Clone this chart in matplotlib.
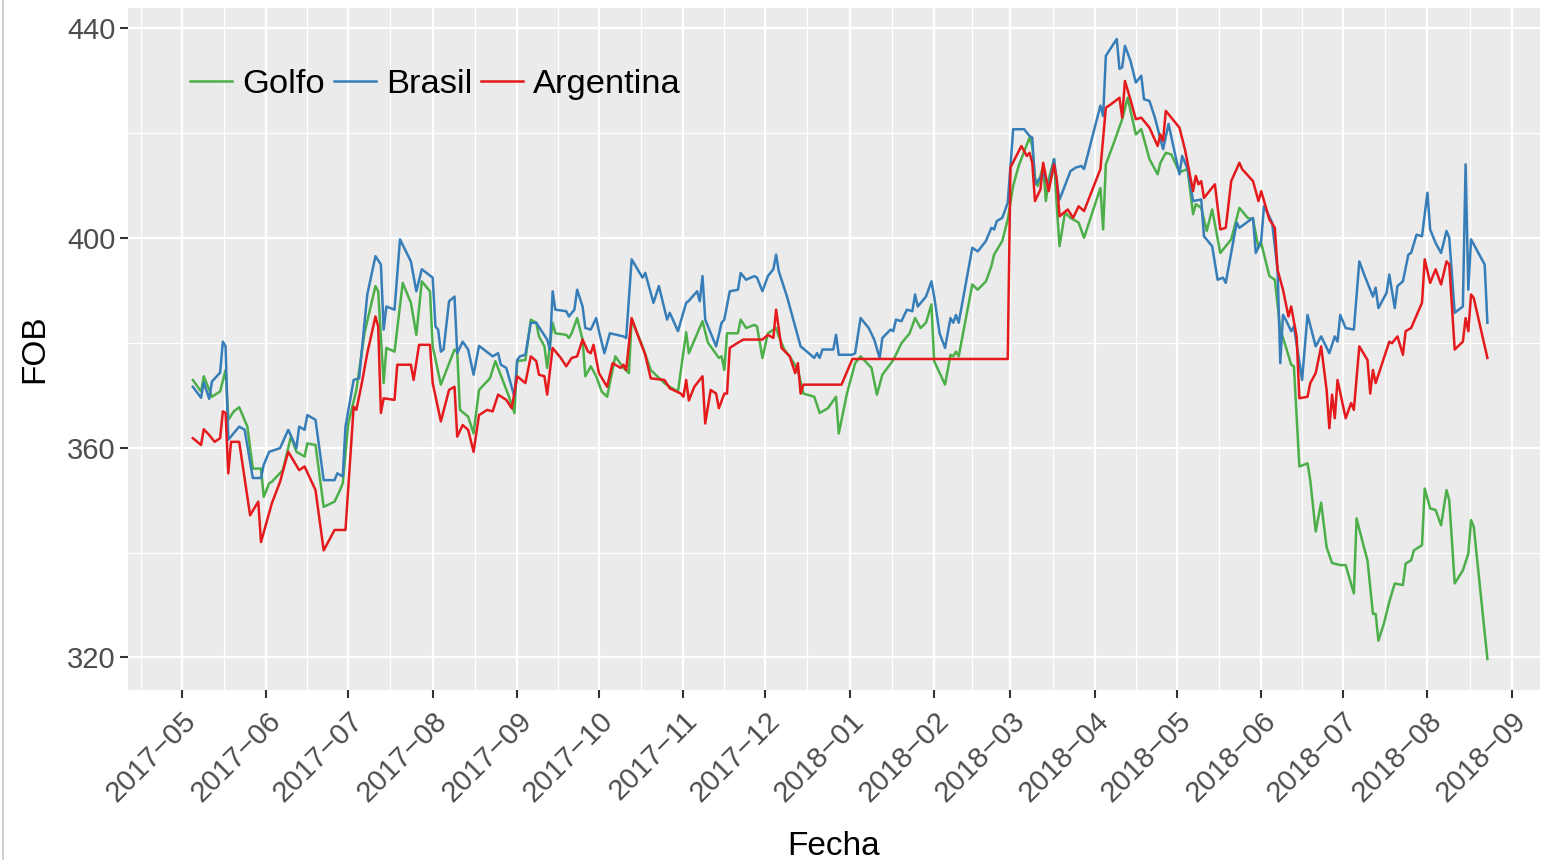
import numpy as np
import pandas as pd
import matplotlib
matplotlib.use("Agg")
import matplotlib.pyplot as plt
import matplotlib.dates as mdates
from matplotlib.lines import Line2D

plt.rcParams["font.family"] = ["Liberation Sans", "DejaVu Sans"]

# días desde 2017-05-01 y precio FOB
inicio = pd.Timestamp("2017-05-01")

golfo_dias = [4, 7, 8, 11, 14, 16, 17, 19, 21, 24, 26, 29, 30, 32, 33, 37, 40, 42, 45, 46,
              49, 52, 56, 58, 59, 61, 64, 67, 71, 72, 74, 75, 78, 81, 84, 86, 88, 91, 92, 95,
              100, 101, 102, 105, 107, 109, 113, 115, 120, 122, 123, 126, 128, 130, 131, 133, 134, 136, 137, 141,
              142, 143, 145, 147, 148, 150, 152, 154, 156, 159, 162, 164, 165, 169, 172, 177, 179, 182, 185, 186,
              191, 193, 194, 197, 198, 199, 200, 204, 205, 207, 210, 211, 213, 215, 218, 219, 221, 223, 226, 228,
              232, 234, 237, 240, 241, 244, 247, 249, 253, 255, 257, 261, 264, 267, 269, 271, 273, 275, 276, 280,
              282, 283, 284, 285, 290, 292, 295, 297, 298, 301, 303, 305, 307, 311, 312, 313, 314, 316, 317, 318,
              320, 321, 322, 324, 326, 329, 331, 337, 338, 339, 342, 345, 347, 350, 352, 355, 358, 359, 361, 363,
              366, 369, 371, 372, 374, 376, 378, 381, 385, 388, 391, 393, 395, 396, 399, 401, 403, 405, 407, 408,
              410, 413, 414, 416, 418, 420, 422, 425, 427, 430, 431, 433, 435, 437, 438, 439, 441, 443, 445, 448,
              449, 451, 452, 455, 456, 458, 460, 462, 464, 465, 467, 470, 472, 473, 474, 479]
golfo_fob = [372.9, 370.7, 373.6, 369.7, 370.7, 374.8, 365.3, 366.9, 367.7, 364.0, 356.0, 356.0, 350.6, 353.2, 353.5, 355.7, 362.1, 359.2, 358.3, 360.8,
             360.5, 348.7, 349.7, 351.9, 353.2, 364.5, 371.0, 381.9, 390.8, 389.8, 372.3, 379.0, 378.3, 391.4, 387.6, 381.5, 391.7, 389.8, 379.3, 372.0,
             378.7, 378.3, 367.2, 365.9, 362.7, 371.0, 373.2, 376.5, 369.7, 366.6, 376.5, 376.7, 384.4, 383.8, 381.2, 379.3, 375.2, 383.8, 381.8, 381.5,
             380.9, 381.8, 384.7, 380.6, 373.6, 375.5, 373.6, 370.7, 369.7, 377.4, 375.2, 374.2, 384.4, 379.3, 374.8, 372.3, 371.6, 370.7, 382.0, 378.0,
             384.1, 380.0, 379.3, 377.1, 377.4, 374.8, 381.8, 381.8, 384.4, 382.8, 383.4, 383.1, 377.1, 381.8, 382.8, 381.2, 378.7, 377.4, 374.8, 370.3,
             369.7, 366.6, 367.5, 369.7, 362.7, 370.3, 376.1, 377.4, 375.2, 370.1, 373.9, 376.7, 379.9, 381.8, 384.7, 382.8, 383.8, 387.3, 376.5, 372.0,
             377.7, 377.4, 378.3, 377.4, 391.1, 390.1, 391.7, 394.6, 396.8, 399.4, 403.5, 409.9, 413.7, 419.1, 417.5, 411.5, 409.9, 413.7, 407.0, 411.1,
             415.0, 406.0, 398.4, 404.8, 403.8, 402.9, 400.0, 409.5, 401.6, 414.0, 418.2, 422.6, 426.7, 419.7, 420.7, 415.0, 412.1, 414.3, 416.2, 415.9,
             412.5, 413.1, 404.5, 406.4, 405.7, 401.3, 405.4, 397.1, 399.7, 405.7, 403.8, 403.5, 398.1, 399.0, 392.7, 392.0, 382.5, 379.3, 375.8, 375.5,
             356.4, 357.0, 353.8, 344.0, 349.5, 341.0, 338.0, 337.6, 337.6, 332.2, 346.5, 342.4, 338.5, 328.3, 328.3, 323.2, 326.4, 330.6, 334.1, 333.8,
             337.9, 338.5, 340.4, 341.4, 352.2, 348.4, 348.1, 345.2, 351.9, 350.0, 334.1, 336.6, 339.8, 346.2, 344.9, 319.7]

brasil_dias = [4, 7, 8, 10, 11, 14, 15, 16, 17, 21, 23, 26, 29, 30, 32, 36, 39, 42, 43, 45,
               46, 49, 52, 56, 57, 59, 60, 63, 65, 68, 71, 73, 74, 75, 78, 80, 84, 86, 88, 92,
               93, 94, 95, 96, 98, 100, 101, 103, 105, 107, 109, 114, 116, 117, 119, 122, 123, 124, 126, 128,
               130, 134, 135, 136, 137, 141, 142, 144, 145, 147, 148, 150, 152, 153, 155, 157, 162, 163, 165, 169,
               170, 173, 175, 178, 179, 182, 185, 186, 189, 190, 191, 192, 196, 198, 199, 201, 204, 205, 207, 210,
               211, 213, 215, 217, 218, 219, 222, 225, 226, 227, 230, 232, 233, 234, 235, 239, 240, 241, 246, 247,
               249, 252, 254, 256, 257, 260, 261, 262, 264, 266, 268, 269, 270, 273, 275, 276, 278, 280, 282, 283,
               284, 285, 290, 292, 295, 297, 298, 299, 301, 303, 304, 305, 309, 311, 312, 313, 315, 316, 318, 320,
               321, 322, 323, 326, 328, 330, 331, 337, 338, 339, 341, 343, 344, 345, 346, 348, 350, 352, 353, 355,
               357, 360, 362, 366, 367, 369, 371, 374, 375, 378, 380, 382, 383, 387, 388, 393, 394, 396, 397, 398,
               400, 402, 403, 404, 405, 407, 408, 411, 413, 416, 418, 421, 423, 424, 425, 427, 430, 432, 434, 437,
               438, 439, 442, 443, 445, 446, 448, 450, 451, 453, 455, 457, 458, 460, 462, 464, 465, 467, 470, 471,
               472, 473, 478, 479]
brasil_fob = [371.6, 369.5, 372.4, 369.3, 372.6, 374.3, 380.2, 379.3, 361.5, 364.0, 363.4, 354.2, 354.2, 356.7, 359.2, 359.9, 363.4, 359.9, 364.0, 363.4,
              366.2, 365.3, 353.8, 353.8, 355.1, 354.5, 364.0, 372.9, 373.2, 389.2, 396.5, 394.9, 382.5, 386.9, 386.3, 399.7, 395.5, 389.8, 394.0, 392.4,
              383.1, 382.5, 378.3, 378.7, 387.9, 388.8, 378.0, 380.2, 378.7, 373.9, 379.4, 377.4, 378.0, 375.8, 375.2, 369.7, 376.7, 377.4, 377.7, 383.8,
              383.8, 380.6, 378.7, 389.8, 386.3, 386.0, 385.0, 386.3, 390.1, 386.9, 382.8, 382.5, 384.7, 382.2, 378.0, 381.8, 381.2, 380.9, 395.9, 392.4,
              393.3, 387.6, 390.8, 384.4, 385.7, 382.2, 387.6, 388.0, 389.8, 387.9, 392.7, 384.4, 379.3, 383.8, 384.4, 389.8, 390.1, 393.3, 392.0, 392.7,
              392.4, 389.8, 392.7, 394.0, 396.8, 393.6, 388.8, 383.1, 381.2, 379.3, 378.0, 377.1, 378.0, 377.1, 378.7, 378.7, 381.5, 377.7, 377.7, 378.0,
              384.7, 382.8, 380.6, 377.1, 380.9, 382.5, 382.2, 384.4, 384.1, 386.3, 386.0, 389.2, 386.9, 388.8, 391.7, 388.8, 381.8, 379.0, 384.7, 383.8,
              385.3, 383.8, 398.1, 397.4, 399.4, 401.9, 401.6, 403.2, 403.8, 406.7, 413.7, 420.7, 420.7, 419.4, 419.1, 410.2, 411.5, 412.4, 409.5, 415.0,
              410.5, 407.3, 408.6, 412.7, 413.4, 413.7, 413.1, 425.2, 423.2, 434.7, 436.3, 437.9, 432.2, 432.5, 436.6, 433.8, 429.6, 430.9, 426.4, 426.1,
              422.9, 416.9, 421.7, 412.1, 415.6, 413.1, 407.0, 407.3, 400.3, 398.4, 392.0, 392.4, 391.4, 402.9, 401.9, 403.8, 397.1, 399.4, 406.0, 405.1,
              402.9, 393.9, 376.1, 385.3, 384.4, 382.2, 383.1, 372.9, 385.3, 379.3, 381.2, 378.0, 381.2, 380.2, 385.3, 382.8, 382.5, 395.5, 392.7, 388.8,
              390.5, 386.6, 389.5, 393.0, 386.6, 390.8, 391.7, 396.8, 397.1, 400.6, 400.3, 408.6, 401.6, 399.0, 397.1, 401.3, 400.0, 385.7, 386.9, 414.0,
              390.1, 399.7, 394.9, 383.8]

argentina_dias = [4, 7, 8, 10, 12, 14, 15, 16, 17, 18, 21, 25, 28, 29, 33, 36, 39, 43, 45, 49,
                  52, 56, 60, 63, 64, 66, 68, 71, 72, 73, 74, 78, 79, 84, 85, 87, 91, 92, 95, 98,
                  100, 101, 103, 105, 107, 109, 112, 114, 116, 119, 121, 123, 126, 128, 130, 131, 133, 134, 136, 139,
                  141, 143, 145, 147, 149, 150, 151, 153, 156, 158, 161, 162, 163, 165, 167, 170, 172, 177, 179, 183,
                  184, 185, 186, 188, 191, 192, 194, 196, 197, 199, 200, 201, 204, 206, 213, 215, 217, 218, 220, 223,
                  225, 226, 227, 228, 242, 246, 303, 304, 308, 310, 311, 312, 313, 315, 316, 318, 320, 321, 322, 325,
                  327, 329, 331, 337, 339, 341, 344, 345, 346, 348, 350, 352, 355, 358, 359, 360, 361, 366, 368, 371,
                  372, 373, 374, 375, 379, 381, 383, 385, 388, 389, 393, 395, 396, 399, 401, 402, 404, 406, 407, 409,
                  410, 413, 414, 416, 418, 420, 421, 422, 423, 424, 427, 429, 430, 432, 435, 436, 437, 438, 443, 444,
                  446, 448, 449, 451, 455, 456, 458, 460, 462, 464, 465, 467, 470, 471, 472, 473, 474, 479]
argentina_fob = [361.8, 360.5, 363.5, 362.4, 361.1, 361.8, 366.9, 366.6, 355.1, 361.1, 361.1, 347.1, 349.7, 342.0, 349.4, 353.5, 359.2, 355.7, 356.4, 351.9,
                 340.4, 344.3, 344.3, 367.8, 367.2, 372.3, 378.0, 385.0, 383.1, 366.6, 369.4, 369.1, 375.8, 375.8, 372.9, 379.6, 379.6, 372.3, 365.0, 371.0,
                 371.6, 362.1, 364.3, 363.4, 359.2, 366.2, 367.2, 366.9, 370.1, 369.1, 367.5, 373.6, 372.3, 377.4, 376.5, 373.9, 373.6, 370.1, 379.0, 377.1,
                 375.5, 377.1, 377.4, 380.6, 378.3, 378.0, 379.6, 374.2, 371.6, 376.1, 375.2, 375.8, 374.8, 384.7, 381.8, 377.7, 373.2, 372.9, 371.3, 370.3,
                 369.7, 372.9, 369.0, 371.6, 373.6, 364.6, 371.0, 370.3, 367.5, 370.3, 370.3, 379.0, 380.0, 380.6, 380.6, 381.5, 380.9, 386.3, 379.0, 377.4,
                 374.2, 376.1, 370.3, 372.0, 372.0, 376.9, 376.9, 413.4, 417.5, 415.6, 416.2, 414.3, 407.0, 409.2, 414.3, 408.9, 414.0, 411.1, 404.1, 405.4,
                 403.8, 406.0, 405.1, 413.1, 424.8, 425.5, 426.7, 422.9, 429.9, 426.4, 422.6, 422.9, 421.0, 417.5, 419.7, 418.5, 424.2, 421.0, 416.9, 408.9,
                 411.8, 410.2, 410.8, 407.6, 410.2, 401.6, 401.9, 410.8, 414.3, 413.1, 410.8, 407.0, 408.9, 403.5, 401.9, 393.9, 390.1, 385.0, 386.9, 381.2,
                 369.4, 369.7, 372.3, 374.2, 379.3, 371.0, 363.7, 370.1, 365.6, 372.9, 365.6, 368.5, 367.2, 379.3, 376.7, 370.3, 374.8, 372.3, 380.2, 379.9,
                 381.2, 377.7, 382.2, 382.8, 387.6, 395.9, 391.4, 394.0, 391.1, 395.5, 394.9, 378.7, 380.2, 384.7, 382.2, 389.2, 388.5, 377.1]

series = ["Golfo", "Brasil", "Argentina"]
colores = {"Golfo": "#4DAF4A", "Brasil": "#377EB8", "Argentina": "#E41A1C"}
datos = {
    "Golfo": (golfo_dias, golfo_fob),
    "Brasil": (brasil_dias, brasil_fob),
    "Argentina": (argentina_dias, argentina_fob),
}

fig = plt.figure(figsize=(15.42, 8.6), dpi=100)
ax = fig.add_axes([128 / 1542, 1 - 690 / 860, 1412 / 1542, 682 / 860])
ax.set_facecolor("#EBEBEB")

for nombre in series:
    dias, fob = datos[nombre]
    fechas = inicio + pd.to_timedelta(dias, unit="D")
    ax.plot(fechas, fob, color=colores[nombre], lw=1.8, label=nombre, zorder=3)

ax.margins(x=0.05, y=0.05)

# grilla al estilo ggplot
meses = pd.date_range("2017-04-01", "2018-10-01", freq="MS")
ax.set_xticks(meses[1:-1])
ax.xaxis.set_major_formatter(mdates.DateFormatter("%Y\u2212%m"))
medios = meses[:-1] + (meses[1:] - meses[:-1]) / 2
ax.set_xticks(medios, minor=True)
ax.set_yticks([320, 360, 400, 440])
ax.set_yticks([340, 380, 420], minor=True)
# el panel queda recortado a la derecha en la captura original
ax.set_xlim(inicio - pd.Timedelta(days=19.8), inicio + pd.Timedelta(days=498.3))

ax.grid(which="major", color="white", lw=1.6, zorder=0)
ax.grid(which="minor", color="white", lw=0.8, zorder=0)
ax.set_axisbelow(True)
for s in ax.spines.values():
    s.set_visible(False)

ax.tick_params(which="major", length=6, width=1.5, color="#333333",
               labelsize=21, labelcolor="#4D4D4D", pad=3)
ax.tick_params(axis="x", which="major", pad=6)
ax.tick_params(which="minor", length=0)
for lab in ax.get_xticklabels():
    lab.set_rotation(45)
    lab.set_ha("right")
    lab.set_va("top")
    lab.set_rotation_mode("anchor")

ax.set_xlabel("Fecha", fontsize=24, color="black")
ax.set_ylabel("FOB", fontsize=24, color="black")
ax.xaxis.set_label_coords(0.5, -0.207)
ax.yaxis.set_label_coords(-0.055, 0.5)

leg = ax.legend(ncol=3, loc="upper left", bbox_to_anchor=(0.044, 0.91),
                frameon=False, fontsize=24.8, handlelength=1.22, handletextpad=0.3,
                columnspacing=0.25, borderpad=0, borderaxespad=0)
for h in leg.get_lines():
    h.set_linewidth(1.8)

# borde gris del recorte a la izquierda
fig.add_artist(Line2D([3 / 1542, 3 / 1542], [0, 1], color="#C8C8C8", lw=1.2))

fig.savefig("out.png", dpi=100)
